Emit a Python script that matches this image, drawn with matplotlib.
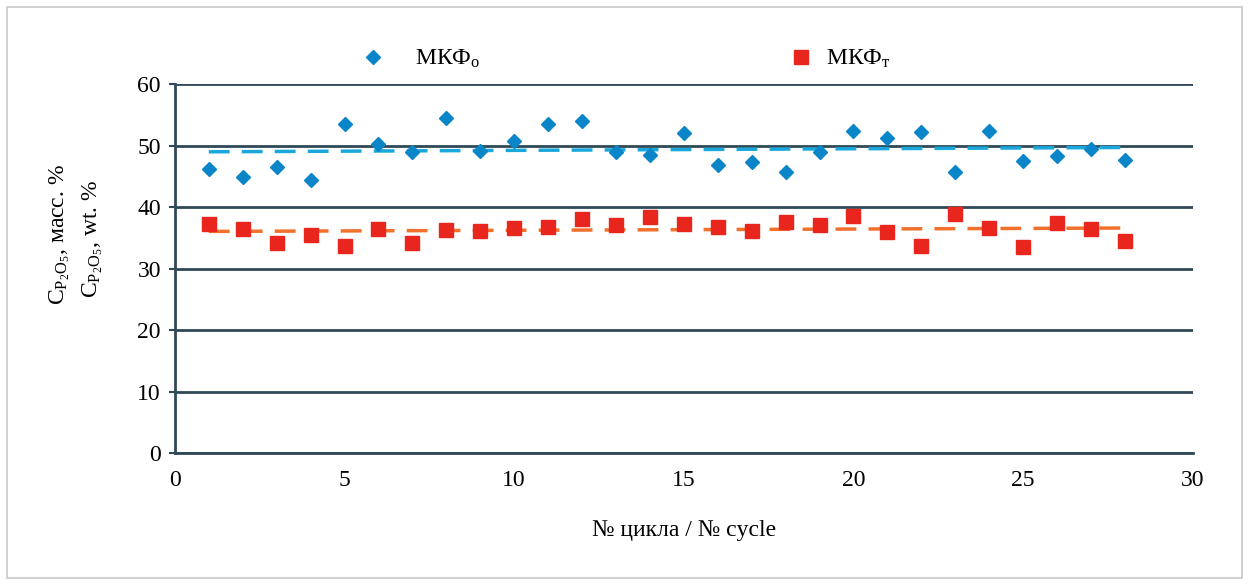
import numpy as np
import matplotlib
matplotlib.use('Agg')
import matplotlib.pyplot as plt
from matplotlib.patches import Rectangle

plt.rcParams['font.family'] = ['Liberation Serif', 'DejaVu Serif']
plt.rcParams['mathtext.fontset'] = 'custom'
plt.rcParams['mathtext.rm'] = 'Liberation Serif'
plt.rcParams['mathtext.it'] = 'Liberation Serif'

# data
cycles = list(range(1, 29))
mkf_o = [46.2, 44.9, 46.5, 44.4, 53.5, 50.2, 48.9, 54.5, 49.1, 50.7,
         53.5, 54.0, 48.9, 48.5, 52.0, 46.8, 47.3, 45.7, 48.9, 52.4,
         51.2, 52.2, 45.7, 52.4, 47.5, 48.3, 49.4, 47.6]
mkf_t = [37.2, 36.4, 34.1, 35.4, 33.7, 36.4, 34.1, 36.3, 36.1, 36.6,
         36.7, 38.0, 37.1, 38.4, 37.2, 36.7, 36.1, 37.6, 37.1, 38.5,
         35.9, 33.7, 38.9, 36.6, 33.5, 37.4, 36.4, 34.5]
x_ticks = [0, 5, 10, 15, 20, 25, 30]
y_ticks = [0, 10, 20, 30, 40, 50, 60]

grid_col = '#2f4a56'
blue = '#0a86c8'
blue_line = '#1aa8dc'
red = '#e8261e'
red_line = '#f0702c'

fig = plt.figure(figsize=(12.49, 5.85), dpi=100)
fig.patches.append(Rectangle((0.006, 0.012), 0.988, 0.976, transform=fig.transFigure,
                             fill=False, edgecolor='#c8c8c8', lw=1.2))
ax = fig.add_axes([0.140, 0.2256, 0.815, 0.6308])

x = np.array(cycles)
handles = []
for vals, col, lcol, mk, ms, lab in [
        (mkf_o, blue, blue_line, 'D', 7.5, 'МКФ$_{\\mathregular{о}}$'),
        (mkf_t, red, red_line, 's', 9.5, 'МКФ$_{\\mathregular{т}}$')]:
    k, b = np.polyfit(x, vals, 1)
    ax.plot(x, k * x + b, color=lcol, lw=2.5, dashes=(6, 3.5), zorder=3)
    h, = ax.plot(x, vals, ls='none', marker=mk, ms=ms, color=col, mec=col, label=lab, zorder=4)
    handles.append(h)

ax.set_xlim(0, 30)
ax.set_ylim(0, 60)
ax.set_xticks(x_ticks)
ax.set_yticks(y_ticks)
ax.yaxis.grid(True, color=grid_col, lw=2)
ax.set_axisbelow(True)
for s in ['top', 'right']:
    ax.spines[s].set_visible(False)
for s in ['left', 'bottom']:
    ax.spines[s].set_color(grid_col)
    ax.spines[s].set_linewidth(2)
ax.tick_params(axis='x', length=0, labelsize=17, pad=12)
ax.tick_params(axis='y', length=4, width=1.5, color=grid_col, labelsize=17, pad=6)

leg1 = fig.legend(handles=[handles[0]], loc='center left', bbox_to_anchor=(0.282, 0.899),
                  frameon=False, fontsize=17, handlelength=1.0, handletextpad=1.28,
                  borderaxespad=0)
leg2 = fig.legend(handles=[handles[1]], loc='center left', bbox_to_anchor=(0.6245, 0.899),
                  frameon=False, fontsize=17, handlelength=1.0, handletextpad=0.56,
                  borderaxespad=0)

fig.text(0.048, 0.600, 'C$_{\\mathregular{P_2O_5}}$, масс. %', rotation=90,
         ha='center', va='center', fontsize=17)
fig.text(0.074, 0.592, 'C$_{\\mathregular{P_2O_5}}$, wt. %', rotation=90,
         ha='center', va='center', fontsize=17)
ax.set_xlabel('№ цикла / № cycle', fontsize=17, labelpad=21)

fig.savefig('out.png', dpi=100)
